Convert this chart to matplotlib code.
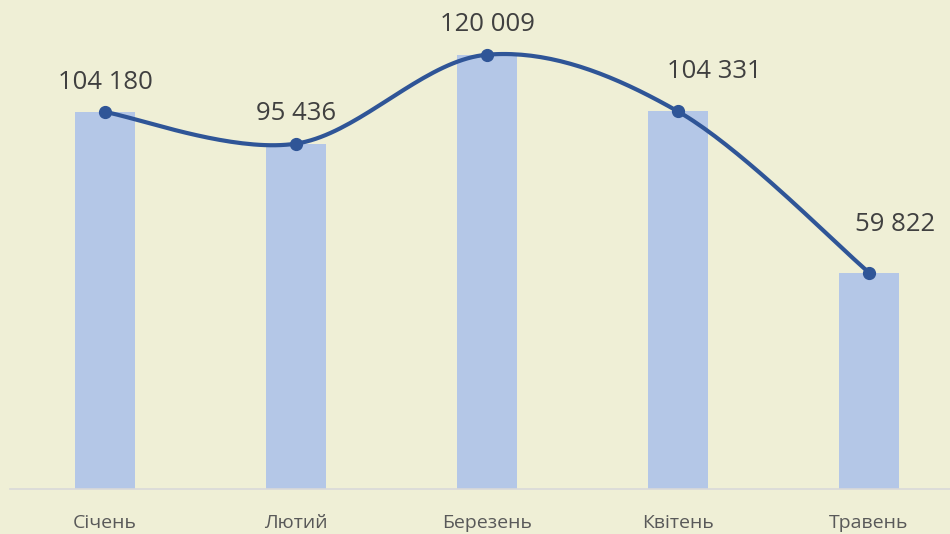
import numpy as np
import matplotlib
matplotlib.use('Agg')
import matplotlib.pyplot as plt

months = ['Січень', 'Лютий', 'Березень', 'Квітень', 'Травень']
values = [104180, 95436, 120009, 104331, 59822]
labels = ['104 180', '95 436', '120 009', '104 331', '59 822']
# label offsets from the marker, in points (Excel pushed the last two right)
label_dx = [0, 0, 0, 26.5, 18.5]
label_dy = [21.5, 22, 21.5, 29, 34.5]

bg = '#EFEFD6'
bar_color = '#B4C7E7'
line_color = '#2F5597'


def smooth(x, y, n=40):
    # catmull-rom through the points, roughly like Excel's smoothed line
    x = np.asarray(x, float)
    y = np.asarray(y, float)
    px = np.concatenate([[x[0]], x, [x[-1]]])
    py = np.concatenate([[y[0]], y, [y[-1]]])
    xs, ys = [], []
    t = np.linspace(0, 1, n)
    for i in range(1, len(px) - 2):
        for p, out in ((px, xs), (py, ys)):
            p0, p1, p2, p3 = p[i - 1], p[i], p[i + 1], p[i + 2]
            out.extend(0.5 * (2 * p1 + (-p0 + p2) * t
                              + (2 * p0 - 5 * p1 + 4 * p2 - p3) * t ** 2
                              + (-p0 + 3 * p1 - 3 * p2 + p3) * t ** 3))
    return np.array(xs), np.array(ys)


W, H = 950, 534
fig = plt.figure(figsize=(W / 100, H / 100), dpi=100)
fig.patch.set_facecolor(bg)

# plot area in pixels: x from 9.5 to 964.5, baseline at y=489
ymax = 130000
px_per_unit = 377.0 / 104180
ax_h = ymax * px_per_unit
ax = fig.add_axes([9.5 / W, (H - 489) / H, 955 / W, ax_h / H])
ax.set_facecolor(bg)

x = np.arange(len(months))
ax.bar(x, values, width=60 / 191, color=bar_color, zorder=1)

sx, sy = smooth(x, values)
ax.plot(sx, sy, color=line_color, lw=3, solid_capstyle='round', zorder=2)
ax.plot(x, values, 'o', color=line_color, ms=8.5, zorder=3)

for xi, v, lab, dx, dy in zip(x, values, labels, label_dx, label_dy):
    ax.annotate(lab, (xi, v), xytext=(dx, dy), textcoords='offset points',
                ha='center', va='center', fontsize=18.5,
                family='Open Sans', color='#404040')

ax.set_xlim(-0.5, 4.5)
ax.set_ylim(0, ymax)
ax.set_yticks([])
ax.set_xticks(x)
ax.set_xticklabels(months, family='Open Sans', fontsize=14, color='#595959')
ax.tick_params(axis='x', length=0, pad=18)
for s in ['top', 'left', 'right']:
    ax.spines[s].set_visible(False)
ax.spines['bottom'].set_color('#D9D9D9')
ax.spines['bottom'].set_linewidth(1.2)

fig.savefig('out.png', dpi=100, facecolor=bg)
